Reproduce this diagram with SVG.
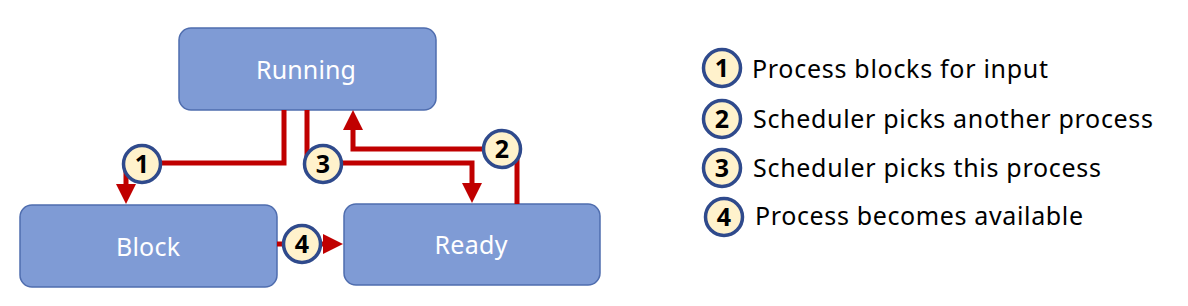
<svg xmlns="http://www.w3.org/2000/svg" width="1188" height="306" viewBox="0 0 1188 306">
  <style>
    .box { fill: #7F9BD5; stroke: #4F6DAE; stroke-width: 1.5; }
    .nodelabel { font-family: "Noto Sans", "Open Sans", sans-serif; font-size: 25px; fill: #FFFFFF; text-anchor: middle; }
    .conn { fill: none; stroke: #C00000; stroke-width: 5; stroke-linejoin: miter; }
    .badge circle { fill: #FFF2CC; stroke: #2F4A8C; stroke-width: 3.5; }
    .badge text { font-family: "Noto Sans", "Open Sans", sans-serif; font-size: 25px; font-weight: bold; fill: #000000; text-anchor: middle; }
    .legend text { font-family: "Noto Sans", "Open Sans", sans-serif; font-size: 25px; fill: #000000; }
  </style>
  <defs>
    <marker id="arrow" viewBox="0 0 20 20" refX="0" refY="10" markerWidth="20" markerHeight="20" markerUnits="userSpaceOnUse" orient="auto">
      <path d="M0,0 L20,10 L0,20 Z" fill="#C00000"/>
    </marker>
  </defs>

  <g id="node-running">
    <rect class="box" x="179" y="28" width="257" height="82" rx="12" ry="12"/>
    <text class="nodelabel" x="306" y="79" textLength="100">Running</text>
  </g>
  <g id="node-block">
    <rect class="box" x="20" y="205" width="257" height="82" rx="12" ry="12"/>
    <text class="nodelabel" x="148" y="256" textLength="64">Block</text>
  </g>
  <g id="node-ready">
    <rect class="box" x="344" y="204" width="256" height="81" rx="12" ry="12"/>
    <text class="nodelabel" x="471" y="254" textLength="73">Ready</text>
  </g>

  <g id="connectors">
    <path class="conn" d="M284,110 V163 H126 V184" marker-end="url(#arrow)"/>
    <path class="conn" d="M307,110 V163 H472 V183" marker-end="url(#arrow)"/>
    <path class="conn" d="M517,204 V149 H353 V130" marker-end="url(#arrow)"/>
    <path class="conn" d="M277,244 H323" marker-end="url(#arrow)"/>
  </g>

  <g id="connector-labels">
    <g class="badge" id="badge-1"><circle cx="142" cy="164" r="18.5"/><text x="142" y="173">1</text></g>
    <g class="badge" id="badge-3"><circle cx="323" cy="164" r="18.5"/><text x="323" y="173">3</text></g>
    <g class="badge" id="badge-2"><circle cx="502" cy="149" r="18.5"/><text x="502" y="158">2</text></g>
    <g class="badge" id="badge-4"><circle cx="302" cy="244" r="18.5"/><text x="302" y="253">4</text></g>
  </g>

  <g id="legend" class="legend">
    <g class="badge"><circle cx="722" cy="68" r="18.5"/><text x="722" y="77">1</text></g>
    <text x="752" y="78" textLength="296">Process blocks for input</text>
    <g class="badge"><circle cx="722" cy="119" r="18.5"/><text x="722" y="128">2</text></g>
    <text x="753" y="128" textLength="400">Scheduler picks another process</text>
    <g class="badge"><circle cx="722" cy="168" r="18.5"/><text x="722" y="177">3</text></g>
    <text x="753" y="177" textLength="348">Scheduler picks this process</text>
    <g class="badge"><circle cx="724" cy="217" r="18.5"/><text x="724" y="226">4</text></g>
    <text x="755" y="225" textLength="328">Process becomes available</text>
  </g>
</svg>
